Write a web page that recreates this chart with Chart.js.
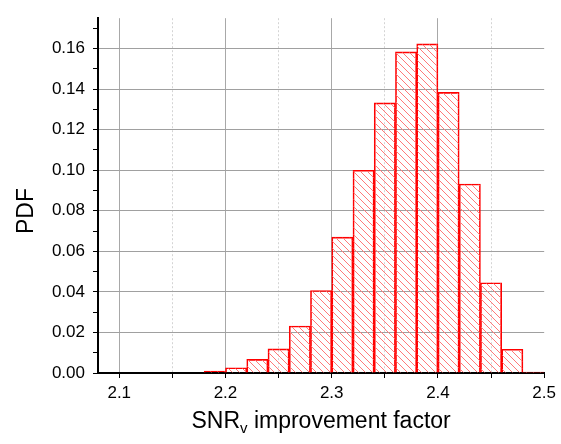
<!DOCTYPE html>
<html>
<head>
<meta charset="utf-8">
<script src="https://cdn.jsdelivr.net/npm/chart.js@4/dist/chart.umd.min.js"></script>
<style>
  body { margin: 0; background: #fff; }
  #wrap { width: 561px; height: 444px; }
</style>
</head>
<body>
<div id="wrap"><canvas id="pdfChart"></canvas></div>
<script>
// histogram bins (centre of each 0.02 wide bin) and PDF values
const binCenters = [2.19, 2.21, 2.23, 2.25, 2.27, 2.29, 2.31, 2.33, 2.35, 2.37, 2.39, 2.41, 2.43, 2.45, 2.47, 2.49];
const pdfValues = [0.0010, 0.0026, 0.0067, 0.0119, 0.0232, 0.0407, 0.0670, 0.1000, 0.1332, 0.1584, 0.1623, 0.1384, 0.0932, 0.0445, 0.0117, 0.0005];

// axis ticks
const xMajorTicks = [2.1, 2.2, 2.3, 2.4, 2.5];
const xMinorTicks = [2.15, 2.25, 2.35, 2.45];
const yMajorTicks = [0, 0.02, 0.04, 0.06, 0.08, 0.10, 0.12, 0.14, 0.16];
const yMinorTicks = [0.01, 0.03, 0.05, 0.07, 0.09, 0.11, 0.13, 0.15, 0.17];

const xTitle = ['SNR', 'v', ' improvement factor'];
const yTitle = 'PDF';

Chart.defaults.font.family = '"Liberation Sans", Arial, sans-serif';
Chart.defaults.color = '#000';

function isIn(list, v) {
    return list.some(t => Math.abs(t - v) < 1e-9);
}

// diagonal hatch like the original plot
function makeHatch() {
    let c = document.createElement('canvas');
    c.width = 7;
    c.height = 7;
    let g = c.getContext('2d');
    g.strokeStyle = '#ff7a7a';
    g.lineWidth = 1;
    g.beginPath();
    g.moveTo(-1, -1);
    g.lineTo(8, 8);
    g.moveTo(-1, 6);
    g.lineTo(1, 8);
    g.moveTo(6, -1);
    g.lineTo(8, 1);
    g.stroke();
    return document.getElementById('pdfChart').getContext('2d').createPattern(c, 'repeat');
}

// axis titles (x title has a subscript)
const axisTitles = {
    id: 'axisTitles',
    afterDraw(chart) {
        let ctx = chart.ctx;
        let area = chart.chartArea;
        ctx.save();
        ctx.fillStyle = '#000';
        ctx.textBaseline = 'alphabetic';
        let big = '23px "Liberation Sans", Arial, sans-serif';
        let small = '15px "Liberation Sans", Arial, sans-serif';
        ctx.font = big;
        let w1 = ctx.measureText(xTitle[0]).width;
        let w3 = ctx.measureText(xTitle[2]).width;
        ctx.font = small;
        let w2 = ctx.measureText(xTitle[1]).width;
        let x = (area.left + area.right) / 2 - (w1 + w2 + w3) / 2;
        let y = 428;
        ctx.textAlign = 'left';
        ctx.font = big;
        ctx.fillText(xTitle[0], x, y);
        ctx.font = small;
        ctx.fillText(xTitle[1], x + w1, y + 5);
        ctx.font = big;
        ctx.fillText(xTitle[2], x + w1 + w2, y);

        ctx.translate(27, 211);
        ctx.rotate(-Math.PI / 2);
        ctx.textAlign = 'center';
        ctx.textBaseline = 'middle';
        ctx.font = big;
        ctx.fillText(yTitle, 0, 0);
        ctx.restore();
    }
};

let pdfChart = new Chart(document.getElementById('pdfChart'), {
    type: 'bar',
    data: {
        datasets: [{
            label: 'PDF',
            data: binCenters.map((x, i) => ({ x: x, y: pdfValues[i] })),
            backgroundColor: makeHatch(),
            borderColor: '#ff0000',
            borderWidth: 1,
            barPercentage: 1,
            categoryPercentage: 1
        }]
    },
    options: {
        responsive: true,
        maintainAspectRatio: false,
        animation: false,
        layout: { padding: { left: 0, right: 16, top: 13, bottom: 0 } },
        plugins: {
            legend: { display: false },
            tooltip: { enabled: false }
        },
        scales: {
            x: {
                type: 'linear',
                min: 2.08,
                max: 2.5,
                offset: false,
                afterBuildTicks: scale => {
                    scale.ticks = xMajorTicks.concat(xMinorTicks).sort((a, b) => a - b).map(v => ({ value: v }));
                },
                afterFit: scale => { scale.height = 71; },
                ticks: {
                    autoSkip: false,
                    maxRotation: 0,
                    padding: 5,
                    font: { size: 17 },
                    callback: v => isIn(xMajorTicks, v) ? v.toFixed(1) : ''
                },
                grid: {
                    offset: false,
                    color: ctx => {
                        if (!ctx.tick) return 'transparent';
                        let v = ctx.tick.value;
                        if (isIn(xMinorTicks, v)) return '#d4d4d4';
                        if (v < 2.45) return '#a8a8a8';
                        return 'transparent';
                    },
                    tickColor: '#000',
                    tickLength: 5,
                    lineWidth: 1
                },
                border: {
                    color: '#000',
                    width: 2,
                    dash: ctx => (ctx.tick && isIn(xMinorTicks, ctx.tick.value)) ? [2, 2] : []
                }
            },
            y: {
                min: 0,
                max: 0.175,
                afterBuildTicks: scale => {
                    scale.ticks = yMajorTicks.concat(yMinorTicks).sort((a, b) => a - b).map(v => ({ value: v }));
                },
                afterFit: scale => { scale.width = 98; },
                ticks: {
                    autoSkip: false,
                    padding: 8,
                    font: { size: 17 },
                    callback: v => isIn(yMajorTicks, v) ? v.toFixed(2) : ''
                },
                grid: {
                    color: ctx => {
                        if (!ctx.tick) return 'transparent';
                        let v = ctx.tick.value;
                        return (isIn(yMajorTicks, v) && v > 0) ? '#a0a0a0' : 'transparent';
                    },
                    tickColor: '#000',
                    tickLength: 5,
                    lineWidth: 1
                },
                border: { color: '#000', width: 2 }
            }
        }
    },
    plugins: [axisTitles]
});
</script>
</body>
</html>
